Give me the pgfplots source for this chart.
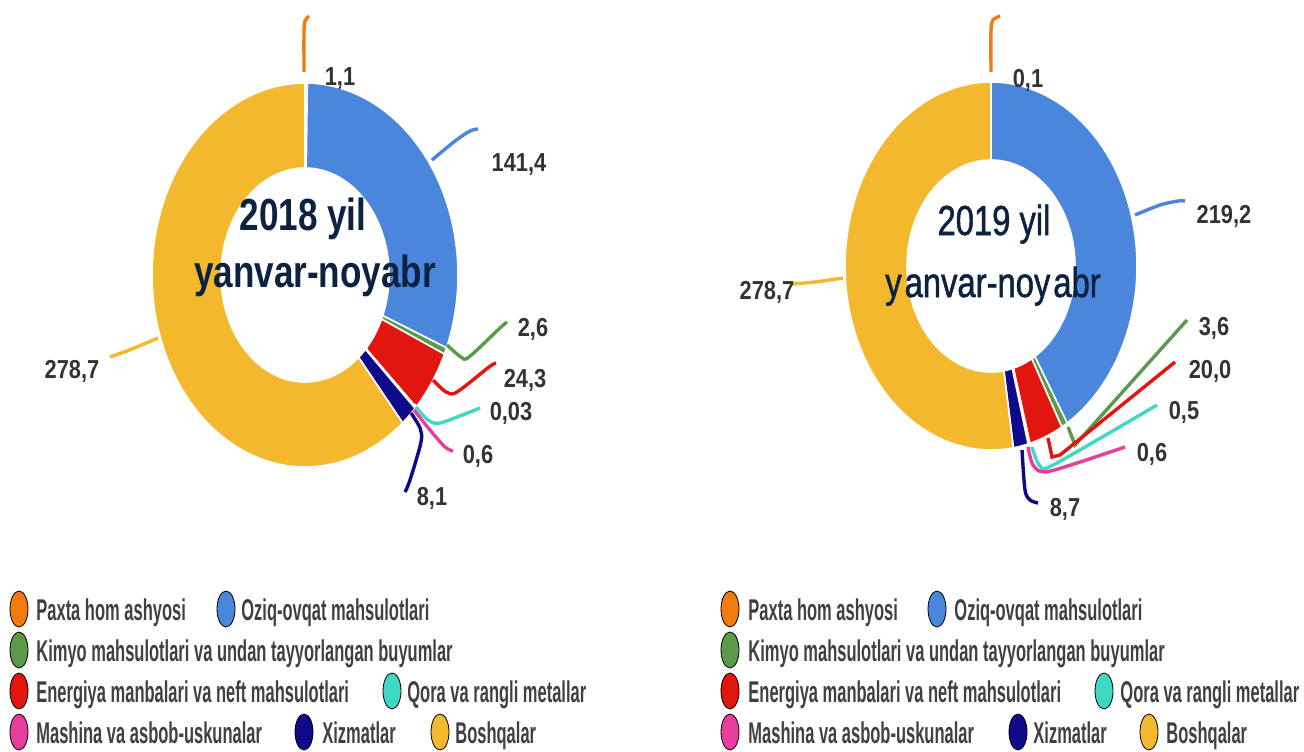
\documentclass[border=0pt]{standalone}
\usepackage{fontspec}
\usepackage{pgfplots}
\usepackage{pgfplotstable}
\pgfplotsset{compat=1.18}
\setmainfont{Liberation Sans}
\newfontfamily\legfont{Liberation Sans}[FakeStretch=0.55]
\newfontfamily\numfont{Liberation Sans}[FakeStretch=0.84]
\newfontfamily\cenfont{Liberation Sans}[FakeStretch=0.78]
\newfontfamily\cenfontb{Liberation Sans}[FakeStretch=0.78, FakeBold=1.2]

\definecolor{s0}{HTML}{F07B0F}% Paxta
\definecolor{s1}{HTML}{4A86DC}% Oziq-ovqat
\definecolor{s2}{HTML}{5A9A48}% Kimyo
\definecolor{s3}{HTML}{E2160F}% Energiya
\definecolor{s4}{HTML}{3ED8C3}% Qora
\definecolor{s5}{HTML}{E73E9E}% Mashina
\definecolor{s6}{HTML}{0E0A8A}% Xizmatlar
\definecolor{s7}{HTML}{F4B82E}% Boshqalar
\definecolor{numgray}{HTML}{333333}
\definecolor{leggray}{HTML}{404040}
\definecolor{cen}{HTML}{0D2240}

% 2018 yil yanvar-noyabr
\pgfplotstableread{
share
1.1
141.4
2.6
24.3
0.03
0.6
8.1
278.7
}\dataA

% 2019 yil yanvar-noyabr
\pgfplotstableread{
share
0.1
219.2
3.6
20.0
0.5
0.6
8.7
278.7
}\dataB

% start/end angles of the slices, clockwise from the top
\newcommand\prepare[2]{%
  \xdef\tot{0}\xdef\cum{0}%
  \foreach \i in {0,...,7}{%
    \pgfplotstablegetelem{\i}{share}\of{#2}%
    \pgfmathparse{\tot+\pgfplotsretval}\xdef\tot{\pgfmathresult}}%
  \foreach \i in {0,...,7}{%
    \pgfplotstablegetelem{\i}{share}\of{#2}%
    \pgfmathparse{90-360*(\cum/\tot)}\expandafter\xdef\csname #1s\i\endcsname{\pgfmathresult}%
    \pgfmathparse{\cum+\pgfplotsretval}\xdef\cum{\pgfmathresult}%
    \pgfmathparse{90-360*(\cum/\tot)}\expandafter\xdef\csname #1e\i\endcsname{\pgfmathresult}}%
}

% one ring sector: color, start, end, cx, cy, rx out, ry out, rx in, ry in
\newcommand\ring[9]{%
  \addplot[fill=#1, draw=white, line width=0.8pt,
    samples at={0,1,...,100,200,201,...,300,301}, variable=\t]
  ({#4+ifthenelse(\t<150||\t>300.5,#6,#8)*cos(#2+(#3-#2)*ifthenelse(\t<150,\t/100,ifthenelse(\t>300.5,0,(300-\t)/100)))},
   {#5-ifthenelse(\t<150||\t>300.5,#7,#9)*sin(#2+(#3-#2)*ifthenelse(\t<150,\t/100,ifthenelse(\t>300.5,0,(300-\t)/100)))});
}

\newcommand\lab[3]{\node[anchor=base, font=\numfont\bfseries\fontsize{13}{13}\selectfont, text=numgray] at (axis cs:#1,#2) {#3};}

% legend item: color, circle x, circle y, text x, baseline, text
\newcommand\leg[6]{%
  \addplot[only marks, mark=*, mark size=9pt, mark options={xscale=0.5, fill=#1, draw=none}] coordinates {(#2,#3)};
  \node[anchor=base west, font=\legfont\bfseries\fontsize{15}{15}\selectfont, text=leggray, inner sep=0pt] at (axis cs:#4,#5) {#6};
}

\begin{document}
\begin{tikzpicture}
\prepare{A}{\dataA}
\prepare{B}{\dataB}
\path[use as bounding box] (0,0) rectangle (652pt,375.5pt);
\begin{axis}[at={(0,0)}, anchor=south west,
  x=0.5pt, y=0.5pt, xmin=0, xmax=1304, ymin=0, ymax=751,
  y dir=reverse, hide axis, clip=false, enlargelimits=false]

% donuts
\pgfplotsinvokeforeach{0,...,7}{%
  \edef\tmp{\noexpand\ring{s#1}{\csname As#1\endcsname}{\csname Ae#1\endcsname}{305}{275}{153}{192}{84}{107}}\tmp
}
\pgfplotsinvokeforeach{0,...,7}{%
  \edef\tmp{\noexpand\ring{s#1}{\csname Bs#1\endcsname}{\csname Be#1\endcsname}{991}{266}{146}{184}{84}{106}}\tmp
}

% leader lines 2018
\addplot[s0, line width=1.7pt, smooth] coordinates {(304,72) (304,32) (305,21) (309,16)};
\addplot[s1, line width=1.7pt, smooth] coordinates {(432,160) (455,141) (470,131) (478,129)};
\addplot[s2, line width=1.7pt, smooth] coordinates {(447,345) (461,357) (469,357) (500,328) (507,322)};
\addplot[s3, line width=1.7pt, smooth] coordinates {(433,380) (446,392) (457,392) (489,367) (496,363)};
\addplot[s4, line width=1.7pt, smooth] coordinates {(416,407) (428,420) (440,423) (470,412) (480,408)};
\addplot[s5, line width=1.7pt, smooth] coordinates {(414,410) (430,430) (445,447) (453,451)};
\addplot[s6, line width=1.7pt, smooth] coordinates {(411,413) (420,428) (421,442) (410,480) (405,492)};
\addplot[s7, line width=1.7pt, smooth] coordinates {(158,338) (132,349) (110,357)};

% leader lines 2019
\addplot[s0, line width=1.7pt, smooth] coordinates {(991,72) (991,30) (993,20) (1000,16)};
\addplot[s1, line width=1.7pt, smooth] coordinates {(1135,215) (1160,205) (1178,201) (1185,201)};
\addplot[s7, line width=1.7pt, smooth] coordinates {(843,278) (815,282) (792,284)};
\addplot[s2, line width=1.7pt] coordinates {(1068,427) (1075,445) (1187,320)};
\addplot[s3, line width=1.7pt] coordinates {(1048,438) (1052,457) (1060,455) (1175,362)};
\addplot[s4, line width=1.7pt, smooth] coordinates {(1032,447) (1040,466) (1055,464) (1157,405)};
\addplot[s5, line width=1.7pt, smooth] coordinates {(1028,447) (1033,465) (1045,472) (1080,462) (1125,447)};
\addplot[s6, line width=1.7pt, smooth] coordinates {(1022,450) (1025,490) (1030,500) (1038,503)};

% value labels 2018
\lab{340}{85}{1,1}
\lab{519}{171}{141,4}
\lab{533}{336}{2,6}
\lab{525}{387}{24,3}
\lab{511}{420}{0,03}
\lab{478}{463}{0,6}
\lab{432}{505}{8,1}
\lab{72}{378}{278,7}

% value labels 2019
\lab{1028}{87}{0,1}
\lab{1224}{223}{219,2}
\lab{1214}{335}{3,6}
\lab{1210}{378}{20,0}
\lab{1184}{419}{0,5}
\lab{1152}{461}{0,6}
\lab{1065}{516}{8,7}
\lab{767}{299}{278,7}

% centre texts
\node[anchor=base, text=cen, font=\cenfont\bfseries\fontsize{22.5}{22.5}\selectfont] at (axis cs:303,230) {2018 yil};
\node[anchor=base, text=cen, font=\cenfont\bfseries\fontsize{22.5}{22.5}\selectfont] at (axis cs:315,287) {yanvar-noyabr};
\node[anchor=base, text=cen, font=\cenfontb\fontsize{21}{21}\selectfont] at (axis cs:994,235) {2019 yil};
\node[anchor=base, text=cen, font=\cenfontb\fontsize{21}{21}\selectfont] at (axis cs:993,297) {y\kern1.5pt anvar-noy\kern1.5pt abr};

% legends
\leg{s0}{19}{609}{36}{620}{Paxta hom ashyosi}
\leg{s1}{226}{609}{241}{620}{Oziq-ovqat mahsulotlari}
\leg{s2}{19}{650}{36}{661}{Kimyo mahsulotlari va undan tayyorlangan buyumlar}
\leg{s3}{19}{691}{36}{702}{Energiya manbalari va neft mahsulotlari}
\leg{s4}{392}{691}{407}{702}{Qora va rangli metallar}
\leg{s5}{19}{732}{36}{743}{Mashina va asbob-uskunalar}
\leg{s6}{304}{732}{322}{743}{Xizmatlar}
\leg{s7}{440}{732}{455}{743}{Boshqalar}

\leg{s0}{730}{609}{748}{620}{Paxta hom ashyosi}
\leg{s1}{937}{609}{954}{620}{Oziq-ovqat mahsulotlari}
\leg{s2}{730}{650}{748}{661}{Kimyo mahsulotlari va undan tayyorlangan buyumlar}
\leg{s3}{730}{691}{748}{702}{Energiya manbalari va neft mahsulotlari}
\leg{s4}{1104}{691}{1120}{702}{Qora va rangli metallar}
\leg{s5}{730}{732}{748}{743}{Mashina va asbob-uskunalar}
\leg{s6}{1018}{732}{1033}{743}{Xizmatlar}
\leg{s7}{1149}{732}{1166}{743}{Boshqalar}
\end{axis}
\end{tikzpicture}
\end{document}
